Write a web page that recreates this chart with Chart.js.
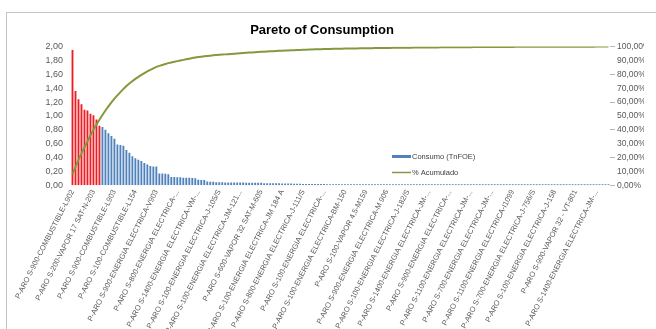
<!DOCTYPE html>
<html>
<head>
<meta charset="utf-8">
<script src="https://cdn.jsdelivr.net/npm/chart.js@4.4.1/dist/chart.umd.min.js"></script>
<style>
  html, body { margin: 0; padding: 0; background: #fff; width: 656px; height: 329px; overflow: hidden; }
  #frame { position: absolute; left: 6px; top: 12px; width: 700px; height: 400px; border: 1px solid #c4c4c4; box-sizing: border-box; }
  #c { position: absolute; left: 0; top: 0; }
</style>
</head>
<body>
<div id="frame"></div>
<canvas id="c" width="656" height="329"></canvas>
<script>
// Consumption per cost centre, sorted from largest to smallest (TnFOE)
const consumo = [
  1.95, 1.36, 1.24, 1.17, 1.09, 1.08, 1.03, 1.01, 0.95, 0.86,
  0.84, 0.80, 0.75, 0.71, 0.67, 0.59, 0.58, 0.57, 0.51, 0.47,
  0.42, 0.39, 0.37, 0.35, 0.32, 0.30, 0.28, 0.27, 0.27,
  0.17, 0.17, 0.165, 0.16,
  0.12, 0.12, 0.115, 0.115, 0.11, 0.11, 0.11, 0.105, 0.10,
  0.08, 0.075, 0.075,
  0.055, 0.05, 0.05,
  0.045, 0.045, 0.045, 0.04, 0.04, 0.04, 0.04, 0.04, 0.04, 0.04, 0.038, 0.038, 0.038, 0.035, 0.035, 0.035,
  0.03, 0.03, 0.03, 0.028, 0.028, 0.028, 0.025, 0.025, 0.025, 0.025, 0.022, 0.022, 0.022, 0.02, 0.02, 0.02, 0.02,
  0.018, 0.018, 0.018, 0.018,
  0.012, 0.012, 0.012, 0.012, 0.012, 0.01, 0.01, 0.01, 0.01, 0.01, 0.009, 0.009, 0.009, 0.009, 0.009,
  0.008, 0.008, 0.008, 0.008, 0.008, 0.007, 0.007, 0.007, 0.007, 0.007, 0.006, 0.006, 0.006, 0.006, 0.006,
  0.005, 0.005, 0.005, 0.005, 0.005, 0.005, 0.005, 0.005, 0.005, 0.005,
  0.004, 0.004, 0.004, 0.004, 0.004, 0.004, 0.004, 0.004, 0.004, 0.004,
  0.003, 0.003, 0.003, 0.003, 0.003, 0.003, 0.003, 0.003, 0.003, 0.003, 0.003, 0.003, 0.003, 0.003, 0.003,
  0.002, 0.002, 0.002, 0.002, 0.002, 0.002, 0.002, 0.002, 0.002, 0.002, 0.002, 0.002, 0.002, 0.002, 0.002,
  0.001, 0.001, 0.001, 0.001, 0.001, 0.001, 0.001, 0.001, 0.001, 0.001, 0.001, 0.001, 0.001, 0.001, 0.001
];

// Names shown on the category axis (one every `labelEvery` categories)
const tickLabels = [
  "P-ARO S-900-COMBUSTIBLE-L902",
  "P-ARO S-200-VAPOR 17 SAT-N-203",
  "P-ARO S-900-COMBUSTIBLE-L903",
  "P-ARO S-100-COMBUSTIBLE-L154",
  "P-ARO S-900-ENERGIA ELECTRICA-V903",
  "P-ARO S-800-ENERGIA ELECTRICA-...",
  "P-ARO S-1400-ENERGIA ELECTRICA-VM-...",
  "P-ARO S-100-ENERGIA ELECTRICA-J-105/S",
  "P-ARO S-100-ENERGIA ELECTRICA-JM-121...",
  "P-ARO S-600-VAPOR 32 SAT-M-605",
  "P-ARO S-100-ENERGIA ELECTRICA-JM 184 A",
  "P-ARO S-800-ENERGIA ELECTRICA-J-111/S",
  "P-ARO S-100-ENERGIA ELECTRICA-...",
  "P-ARO S-100-ENERGIA ELECTRICA-BM-150",
  "P-ARO S-100-VAPOR 4,5-M159",
  "P-ARO S-900-ENERGIA ELECTRICA-M 906",
  "P-ARO S-100-ENERGIA ELECTRICA-J-182/S",
  "P-ARO S-1400-ENERGIA ELECTRICA-JM-...",
  "P-ARO S-900-ENERGIA ELECTRICA-...",
  "P-ARO S-1100-ENERGIA ELECTRICA-JM-...",
  "P-ARO S-700-ENERGIA ELECTRICA-JM-...",
  "P-ARO S-1100-ENERGIA ELECTRICA-I1099",
  "P-ARO S-700-ENERGIA ELECTRICA-J-756/S",
  "P-ARO S-100-ENERGIA ELECTRICA-J-158",
  "P-ARO S-900-VAPOR 32 - VT-801",
  "P-ARO S-1400-ENERGIA ELECTRICA-JM-..."
];
const labelEvery = 7;

// Left axis (TnFOE) and right axis (%) ranges
const consumoAxis = { min: 0, max: 2, step: 0.2 };
const pctAxis = { min: 0, max: 100, step: 10 };
const vitalFewLimit = 50; // bars up to this cumulative % are highlighted

// Running cumulative percentage for the Pareto line
const total = consumo.reduce((a, b) => a + b, 0);
let running = 0;
const acumulado = consumo.map(v => { running += v; return running / total * 100; });

const categories = consumo.map((_, i) => i % labelEvery === 0 ? (tickLabels[i / labelEvery] || '') : '');

const RED = '#ee1d25';
const BLUE = '#4f81bd';
const GREEN = '#83993c';
const TEXT = '#595959';
const FONT = "'Liberation Sans', Arial, sans-serif";

const fmtComma = (v, d) => v.toFixed(d).replace('.', ',');

// Legend drawn inside the plot, lower right
const innerLegend = {
  id: 'innerLegend',
  afterDraw(chart) {
    const ctx = chart.ctx;
    const [bars, line] = chart.data.datasets;
    ctx.save();
    ctx.font = "7.5px " + FONT;
    ctx.textBaseline = 'middle';
    ctx.textAlign = 'left';
    // bar series marker
    ctx.fillStyle = BLUE;
    ctx.fillRect(392, 155, 19, 3);
    ctx.fillStyle = '#404040';
    ctx.fillText(bars.label, 412, 156.5);
    // line series marker
    ctx.strokeStyle = line.borderColor;
    ctx.lineWidth = 1.5;
    ctx.beginPath();
    ctx.moveTo(392, 172.5);
    ctx.lineTo(411, 172.5);
    ctx.stroke();
    ctx.fillText(line.label, 412, 172.5);
    ctx.restore();
  }
};

new Chart(document.getElementById('c'), {
  type: 'bar',
  data: {
    labels: categories,
    datasets: [
      {
        type: 'bar',
        label: 'Consumo (TnFOE)',
        data: consumo,
        yAxisID: 'y',
        backgroundColor: acumulado.map(p => p <= vitalFewLimit ? RED : BLUE),
        barPercentage: 0.62,
        categoryPercentage: 1.0,
        minBarLength: 1,
        order: 2
      },
      {
        type: 'line',
        label: '% Acumulado',
        data: acumulado,
        yAxisID: 'y1',
        borderColor: GREEN,
        borderWidth: 2,
        pointRadius: 0,
        tension: 0,
        fill: false,
        order: 1
      }
    ]
  },
  options: {
    responsive: false,
    animation: false,
    devicePixelRatio: 1,
    layout: { padding: { left: 0, right: 12, top: 0, bottom: 0 } },
    plugins: {
      legend: { display: false },
      tooltip: { enabled: false },
      title: {
        display: true,
        text: 'Pareto of Consumption',
        color: '#000',
        font: { family: FONT, size: 13, weight: 'bold' },
        padding: { top: 23, bottom: 8 }
      }
    },
    scales: {
      x: {
        grid: { display: false, drawTicks: false },
        border: { display: false },
        ticks: {
          autoSkip: false,
          minRotation: 63,
          maxRotation: 63,
          color: TEXT,
          padding: 3,
          font: { family: FONT, size: 7.5 }
        },
        afterFit(scale) { scale.height = 143.7; }
      },
      y: {
        position: 'left',
        min: consumoAxis.min,
        max: consumoAxis.max,
        grid: { display: false, drawTicks: false },
        border: { display: false },
        ticks: {
          stepSize: consumoAxis.step,
          color: TEXT,
          padding: 8,
          font: { family: FONT, size: 9 },
          callback: v => fmtComma(v, 2)
        },
        afterFit(scale) { scale.width = 71; }
      },
      y1: {
        position: 'right',
        min: pctAxis.min,
        max: pctAxis.max,
        grid: {
          drawOnChartArea: false,
          tickLength: 5,
          color: ctx => (ctx.index % 2 === 0 ? '#b8b8b8' : 'rgba(0,0,0,0)')
        },
        border: { display: false },
        ticks: {
          stepSize: pctAxis.step,
          color: TEXT,
          padding: 2,
          font: { family: FONT, size: 8.5 },
          callback: v => fmtComma(v, 2) + '%'
        },
        afterFit(scale) { scale.width = 34; }
      }
    }
  },
  plugins: [innerLegend]
});
</script>
</body>
</html>
